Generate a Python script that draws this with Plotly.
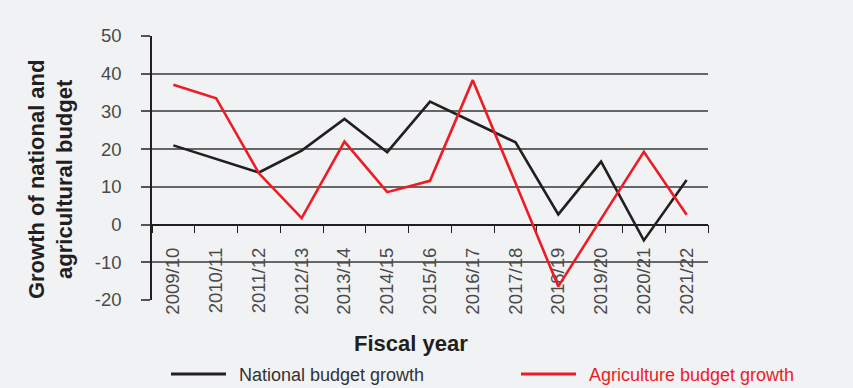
import plotly.graph_objects as go

# Fiscal years on the category axis
years = ["2009/10", "2010/11", "2011/12", "2012/13", "2013/14", "2014/15", "2015/16",
         "2016/17", "2017/18", "2018/19", "2019/20", "2020/21", "2021/22"]

# Annual growth (%) of the national and agricultural budgets
national_growth = [21.0, 17.4, 13.8, 19.6, 28.0, 19.2, 32.6, 27.2, 21.8, 2.7, 16.7, -4.2, 11.8]
agriculture_growth = [37.1, 33.5, 13.6, 1.7, 22.0, 8.6, 11.6, 38.3, 11.0, -16.4, 1.5, 19.3, 2.6]

y_ticks = [-20, -10, 0, 10, 20, 30, 40, 50]
y_tick_labels = ["-20", "-10", "0", "10", "20", "30", "40", "50"]

BLACK = "#231f20"
RED = "#ed1c24"
BG = "#f1f2f4"
FONT = "Liberation Sans, Arial, Helvetica, sans-serif"

fig = go.Figure()
fig.add_trace(go.Scatter(x=years, y=national_growth, mode="lines",
                         name="National budget growth",
                         line=dict(color=BLACK, width=2.6)))
fig.add_trace(go.Scatter(x=years, y=agriculture_growth, mode="lines",
                         name="Agriculture budget growth",
                         line=dict(color=RED, width=2.6)))

fig.update_layout(
    width=853, height=388,
    margin=dict(l=152, r=145, t=36, b=88),
    paper_bgcolor=BG, plot_bgcolor=BG,
    showlegend=False,
    font=dict(family=FONT, color="#444444"),
    xaxis=dict(
        type="category", range=[-0.5, len(years) - 0.5],
        anchor="free", position=20 / 70,   # axis line sits on the zero line
        showline=True, linecolor=BLACK, linewidth=1.6, layer="below traces",
        ticks="outside", tickson="boundaries", ticklen=8, tickcolor=BLACK, tickwidth=1.3,
        tickangle=-90, tickfont=dict(size=18.5, color="#4a4a4a"),
        ticklabelstandoff=15,
        showgrid=False, automargin=False,
    ),
    yaxis=dict(
        range=[-20, 50], tickvals=y_ticks, ticktext=y_tick_labels,
        showline=True, linecolor=BLACK, linewidth=1.5,
        ticks="outside", ticklen=9, tickcolor="#555555", tickwidth=1.5,
        tickfont=dict(size=18.5, color="#4a4a4a"),
        ticklabelstandoff=16,
        showgrid=True, gridcolor="#666666", gridwidth=1.5,
        zeroline=False, automargin=False,
    ),
)

# Axis titles
fig.add_annotation(text="Growth of national and<br>agricultural budget",
                   xref="paper", yref="paper", x=-0.1817, y=0.458,
                   xanchor="center", yanchor="middle", textangle=-90, showarrow=False,
                   font=dict(size=22, color=BLACK, family=FONT, weight="bold"))
fig.add_annotation(text="Fiscal year", xref="paper", yref="paper", x=0.4655, y=-0.163,
                   xanchor="center", yanchor="middle", showarrow=False,
                   font=dict(size=22, color=BLACK, family=FONT, weight="bold"))

# Legend row below the axis title
def px_x(p):
    return (p - 152) / 556

def px_y(p):
    return (300 - p) / 264

legend_items = [
    ("National budget growth", BLACK, "#333333", 171, 226, 237),
    ("Agriculture budget growth", RED, RED, 521, 576, 587),
]
for label, line_color, text_color, x0, x1, xt in legend_items:
    fig.add_shape(type="line", xref="paper", yref="paper",
                  x0=px_x(x0), x1=px_x(x1), y0=px_y(374), y1=px_y(374),
                  line=dict(color=line_color, width=3))
    fig.add_annotation(text=label, xref="paper", yref="paper", x=px_x(xt), y=px_y(374.5),
                       xanchor="left", yanchor="middle", showarrow=False,
                       font=dict(size=18, color=text_color, family=FONT))

fig.write_html("out.html")
